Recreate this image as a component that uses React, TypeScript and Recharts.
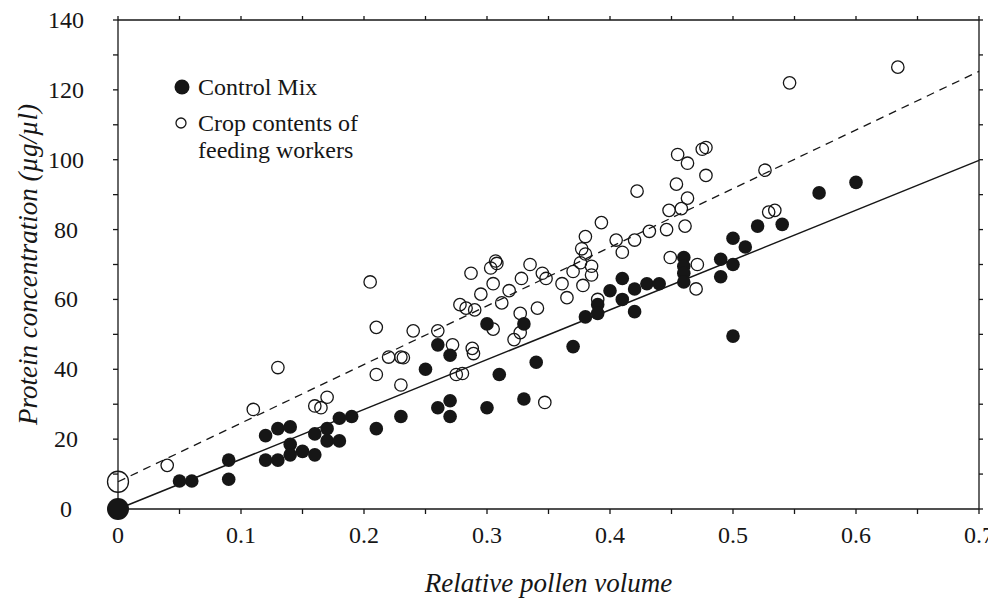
import { ComposedChart, Scatter, XAxis, YAxis, Legend } from "recharts";

// values: [relative pollen volume, protein µg/µl]
const controlMix: [number, number][] = [
  [0.05, 8], [0.06, 8], [0.09, 14], [0.09, 8.5], [0.12, 21], [0.12, 14],
  [0.13, 23], [0.13, 14], [0.14, 23.5], [0.14, 18.5], [0.14, 15.5], [0.15, 16.5],
  [0.16, 21.5], [0.16, 15.5], [0.17, 23], [0.17, 19.5], [0.18, 26], [0.18, 19.5],
  [0.19, 26.5], [0.21, 23], [0.23, 26.5], [0.25, 40], [0.26, 47], [0.26, 29],
  [0.27, 44], [0.27, 31], [0.27, 26.5], [0.3, 53], [0.3, 29], [0.31, 38.5],
  [0.33, 53], [0.33, 31.5], [0.34, 42], [0.37, 46.5], [0.38, 55], [0.39, 58.5],
  [0.39, 56], [0.4, 62.5], [0.41, 66], [0.41, 60], [0.42, 56.5], [0.42, 63],
  [0.43, 64.5], [0.44, 64.5], [0.46, 72], [0.46, 69.5], [0.46, 67.5], [0.46, 65],
  [0.49, 71.5], [0.49, 66.5], [0.5, 70], [0.5, 77.5], [0.5, 49.5], [0.51, 75],
  [0.52, 81], [0.54, 81.5], [0.57, 90.5], [0.6, 93.5],
];

const cropContents: [number, number][] = [
  [0.04, 12.5], [0.11, 28.5], [0.13, 40.5], [0.16, 29.5], [0.165, 29], [0.17, 32],
  [0.205, 65], [0.21, 52], [0.21, 38.5], [0.22, 43.5], [0.23, 43.5], [0.232, 43.3],
  [0.23, 35.5], [0.24, 51], [0.26, 51], [0.272, 47], [0.275, 38.5], [0.28, 38.8],
  [0.278, 58.5], [0.283, 57.5], [0.29, 57], [0.287, 67.5], [0.288, 46], [0.289, 44.5],
  [0.295, 61.5], [0.305, 64.5], [0.303, 69], [0.307, 71], [0.308, 70.3], [0.305, 51.5],
  [0.312, 59], [0.318, 62.5], [0.322, 48.5], [0.327, 50.5], [0.327, 56], [0.328, 66],
  [0.335, 70], [0.341, 57.5], [0.345, 67.5], [0.348, 66], [0.347, 30.5], [0.361, 64.5],
  [0.365, 60.5], [0.37, 68], [0.377, 74.5], [0.38, 73], [0.376, 70.5], [0.378, 64],
  [0.38, 78], [0.385, 69.5], [0.385, 67], [0.39, 60], [0.393, 82], [0.405, 77],
  [0.41, 73.5], [0.42, 77], [0.422, 91], [0.432, 79.5], [0.446, 80], [0.448, 85.5],
  [0.449, 72], [0.454, 93], [0.455, 101.5], [0.458, 86], [0.461, 81], [0.463, 99],
  [0.463, 89], [0.47, 63], [0.471, 70], [0.475, 103], [0.478, 103.5], [0.478, 95.5],
  [0.526, 97], [0.529, 85], [0.534, 85.5], [0.546, 122], [0.634, 126.5],
];

// the large symbols at the intercepts
const controlIntercept: [number, number][] = [[0, 0]];
const cropIntercept: [number, number][] = [[0, 7.8]];

// regression lines
const controlFit: [number, number][] = [[0, 0], [0.7, 99.8]];
const cropFit: [number, number][] = [[0, 7.8], [0.7, 125.3]];

const xTicks = [0, 0.05, 0.1, 0.15, 0.2, 0.25, 0.3, 0.35, 0.4, 0.45, 0.5, 0.55, 0.6, 0.65, 0.7];
const yTicks = [0, 10, 20, 30, 40, 50, 60, 70, 80, 90, 100, 110, 120, 130, 140];

const FONT = '"Liberation Serif", "Times New Roman", serif';
const INK = "#161616";

const pts = (arr: [number, number][]) => arr.map(([x, y]) => ({ x, y }));
const blank = () => "";

const XTick = ({ x, y, payload }: any) => {
  const v = payload.value;
  if (Math.round(v * 100) % 10 !== 0) return null;
  return (
    <text x={x} y={y + 29} textAnchor="middle" fontFamily={FONT} fontSize={24} fill={INK}>
      {String(v)}
    </text>
  );
};

const YTick = ({ x, y, payload }: any) => {
  const v = payload.value;
  if (v % 20 !== 0) return null;
  return (
    <text x={x - 47} y={y + 8} textAnchor="middle" fontFamily={FONT} fontSize={24} fill={INK}>
      {v}
    </text>
  );
};

const filledDot = (r: number) => (p: any) => <circle cx={p.cx} cy={p.cy} r={r} fill={INK} />;
const openDot = (r: number) => (p: any) => (
  <circle cx={p.cx} cy={p.cy} r={r} fill="none" stroke={INK} strokeWidth={1.3} />
);
const noDot = () => <g />;

const LegendBox = () => (
  <svg width={280} height={110} style={{ overflow: "visible" }}>
    <circle cx={14} cy={19} r={7.5} fill={INK} />
    <text x={30} y={27} fontFamily={FONT} fontSize={24} fill={INK}>Control Mix</text>
    <circle cx={13} cy={55} r={5} fill="none" stroke={INK} strokeWidth={1.3} />
    <text x={30} y={63} fontFamily={FONT} fontSize={24} fill={INK}>Crop contents of</text>
    <text x={30} y={90} fontFamily={FONT} fontSize={24} fill={INK}>feeding workers</text>
  </svg>
);

export default function App() {
  const axisLine = { stroke: INK, strokeWidth: 1.3 };
  return (
    <ComposedChart width={988} height={595} margin={{ top: 11, right: 16, bottom: 0, left: 0 }}>
      <XAxis
        xAxisId="b"
        type="number"
        dataKey="x"
        domain={[0, 0.7]}
        ticks={xTicks}
        height={94}
        tickSize={5}
        tickMargin={0}
        axisLine={axisLine}
        tickLine={axisLine}
        tick={<XTick />}
        label={{
          content: ({ viewBox }: any) => (
            <text
              x={viewBox.x + viewBox.width / 2}
              y={584}
              textAnchor="middle"
              fontFamily={FONT}
              fontStyle="italic"
              fontSize={27}
              fill={INK}
            >
              Relative pollen volume
            </text>
          ),
        }}
      />
      <XAxis
        xAxisId="t"
        orientation="top"
        type="number"
        dataKey="x"
        domain={[0, 0.7]}
        ticks={xTicks}
        height={1}
        tickSize={4}
        axisLine={axisLine}
        tickLine={axisLine}
        tickFormatter={blank}
      />
      <YAxis
        yAxisId="l"
        type="number"
        dataKey="y"
        domain={[0, 140]}
        ticks={yTicks}
        width={110}
        tickSize={5}
        tickMargin={0}
        axisLine={axisLine}
        tickLine={axisLine}
        tick={<YTick />}
        label={{
          content: ({ viewBox }: any) => {
            const cy = viewBox.y + viewBox.height / 2;
            return (
              <text
                x={20}
                y={cy}
                transform={`rotate(-90, 20, ${cy})`}
                textAnchor="middle"
                dominantBaseline="central"
                fontFamily={FONT}
                fontStyle="italic"
                fontSize={27}
                fill={INK}
              >
                Protein concentration (µg/µl)
              </text>
            );
          },
        }}
      />
      <YAxis
        yAxisId="r"
        orientation="right"
        type="number"
        dataKey="y"
        domain={[0, 140]}
        ticks={yTicks}
        width={1}
        tickSize={4}
        axisLine={axisLine}
        tickLine={axisLine}
        tickFormatter={blank}
      />
      <Legend
        layout="vertical"
        align="center"
        verticalAlign="middle"
        content={<LegendBox />}
        wrapperStyle={{ left: 160, top: 60, width: 280, height: 110 }}
      />
      <Scatter xAxisId="t" yAxisId="r" data={pts(controlIntercept)} shape={noDot} isAnimationActive={false} />
      <Scatter
        xAxisId="b"
        yAxisId="l"
        data={pts(cropFit)}
        line={{ stroke: INK, strokeWidth: 1.3, strokeDasharray: "8 6" }}
        shape={noDot}
        isAnimationActive={false}
      />
      <Scatter
        xAxisId="b"
        yAxisId="l"
        data={pts(controlFit)}
        line={{ stroke: INK, strokeWidth: 1.5 }}
        shape={noDot}
        isAnimationActive={false}
      />
      <Scatter xAxisId="b" yAxisId="l" data={pts(cropContents)} shape={openDot(6.2)} isAnimationActive={false} />
      <Scatter xAxisId="b" yAxisId="l" data={pts(cropIntercept)} shape={openDot(10.5)} isAnimationActive={false} />
      <Scatter xAxisId="b" yAxisId="l" data={pts(controlMix)} shape={filledDot(6.8)} isAnimationActive={false} />
      <Scatter xAxisId="b" yAxisId="l" data={pts(controlIntercept)} shape={filledDot(11)} isAnimationActive={false} />
    </ComposedChart>
  );
}
